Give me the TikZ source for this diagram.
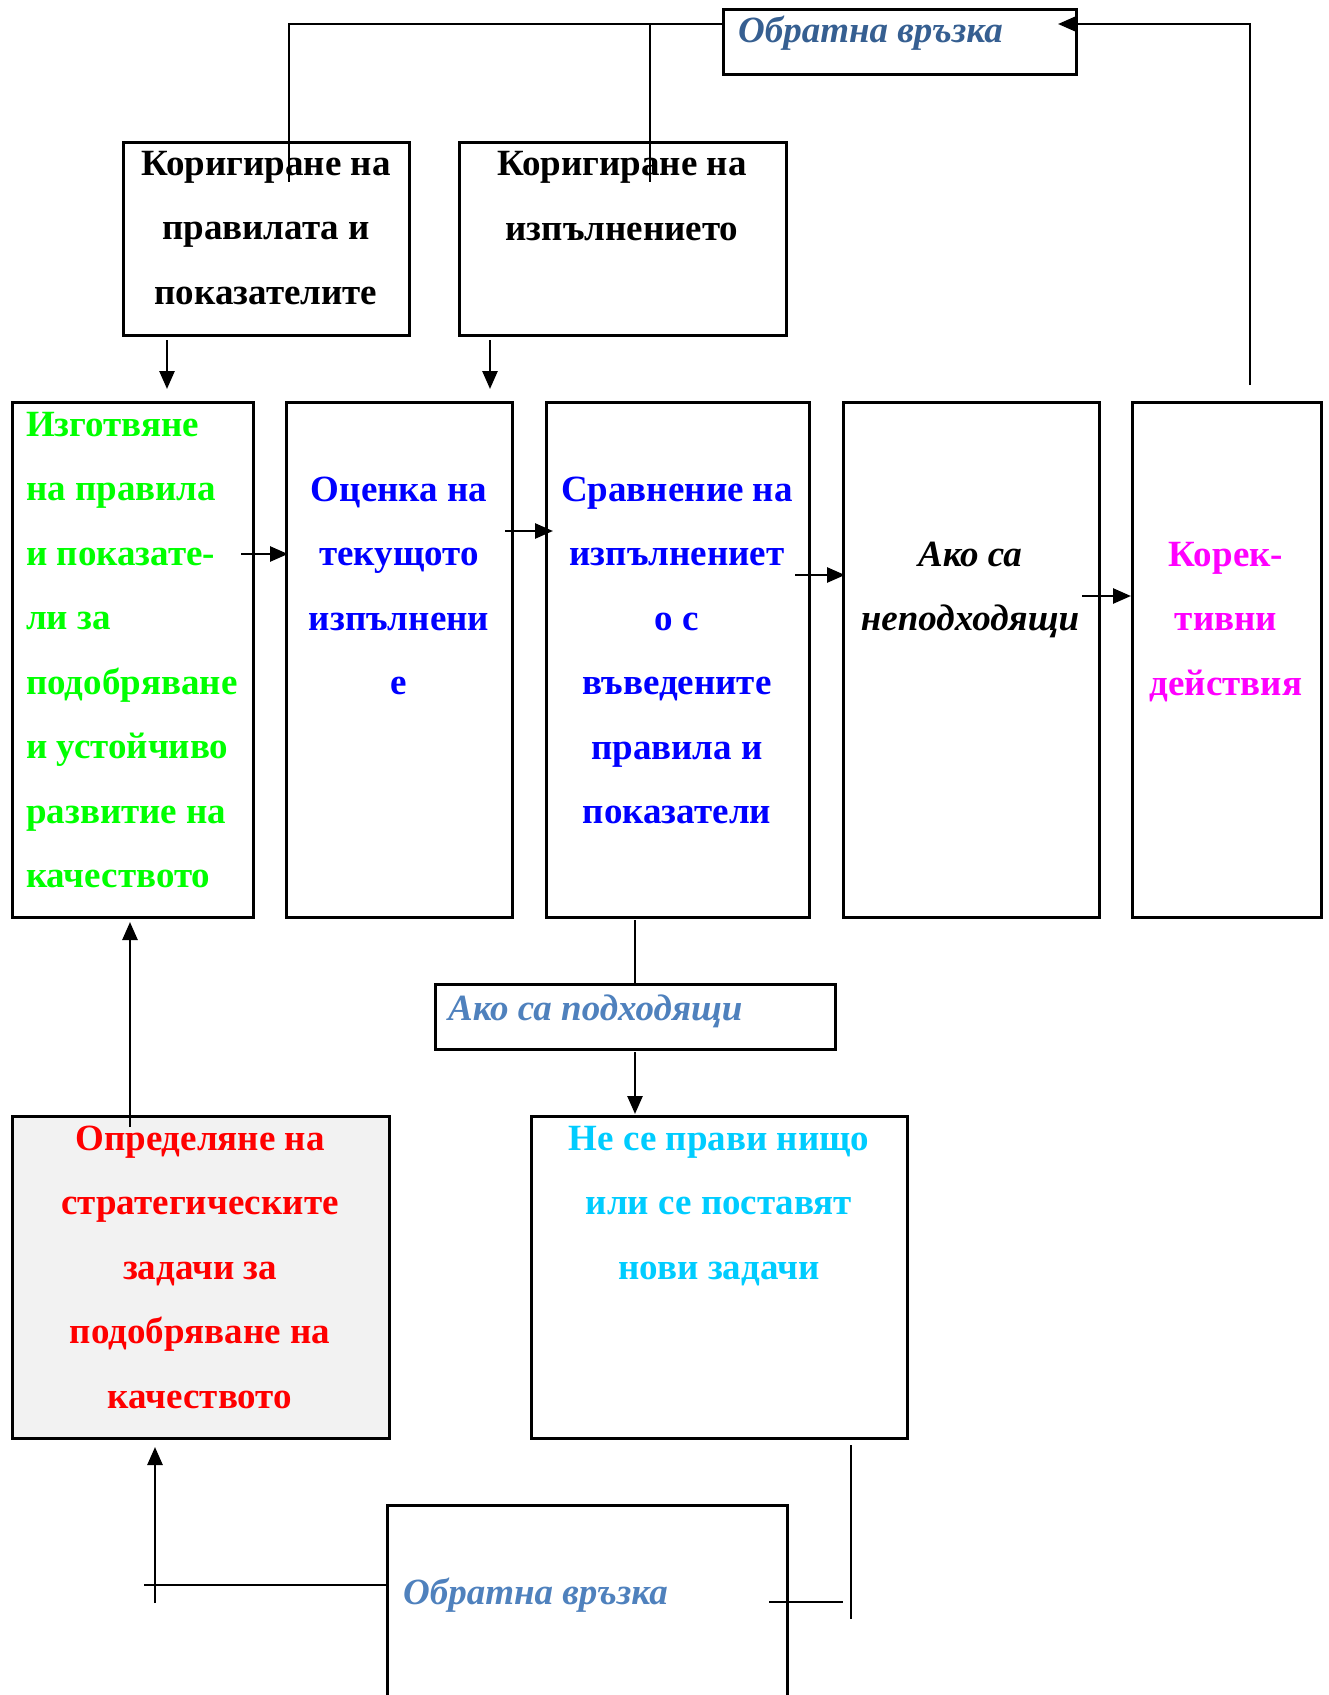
\documentclass[tikz,border=0pt]{standalone}
\usepackage{fontspec}
\setmainfont{Liberation Serif}
\usetikzlibrary{arrows.meta}
\definecolor{fbdark}{HTML}{365F91}
\definecolor{fblight}{HTML}{4F81BD}
\definecolor{cgreen}{HTML}{00FF00}
\definecolor{cblue}{HTML}{0000FF}
\definecolor{cmag}{HTML}{FF00FF}
\definecolor{cred}{HTML}{FF0000}
\definecolor{ccyan}{HTML}{00CCFF}
\definecolor{cgray}{HTML}{F2F2F2}
\begin{document}
\begin{tikzpicture}[x=1pt,y=-1pt,
  box/.style={draw, line width=2.6pt, anchor=north west, inner sep=0pt},
  conn/.style={line width=2.2pt},
  arr/.style={line width=2.6pt, -{Triangle[length=18pt,width=15pt]}},
  lbl/.style={inner sep=0pt, font=\fontsize{37}{64.5}\selectfont\bfseries, align=center, anchor=base},
  lbli/.style={lbl, font=\fontsize{37}{64.5}\selectfont\bfseries\itshape},
]
\useasboundingbox (0,0) rectangle (1329,1695);

% boxes
\node[box, minimum width=353pt, minimum height=65pt] (fbT) at (722,8) {};
\node[box, minimum width=286pt, minimum height=193pt] (corA) at (122,141) {};
\node[box, minimum width=327pt, minimum height=193pt] (corB) at (458,141) {};
\node[box, minimum width=241pt, minimum height=515pt] (prep) at (11,401) {};
\node[box, minimum width=226pt, minimum height=515pt] (eval) at (285,401) {};
\node[box, minimum width=263pt, minimum height=515pt] (comp) at (545,401) {};
\node[box, minimum width=256pt, minimum height=515pt] (bad) at (842,401) {};
\node[box, minimum width=189pt, minimum height=515pt] (corr) at (1131,401) {};
\node[box, minimum width=400pt, minimum height=65pt] (good) at (434,983) {};
\node[box, minimum width=377pt, minimum height=322pt, fill=cgray] (strat) at (11,1115) {};
\node[box, minimum width=376pt, minimum height=322pt] (none) at (530,1115) {};
\node[box, minimum width=400pt, minimum height=230pt] (fbB) at (386,1504) {};

% texts (each placed by the baseline of its last line)
\node[lbli, anchor=base west, text=fbdark] (fbTt) at (738,42) {Обратна връзка};
\node[lbl] (corAt) at (266,304) {Коригиране на\\правилата и\\показателите};
\node[lbl] (corBt) at (622,240) {Коригиране на\\изпълнението};
\node[lbl, align=left, anchor=base west, text=cgreen] (prept) at (26,887.5)
  {Изготвяне\\на правила\\и показате-\\ли за\\подобряване\\и устойчиво\\развитие на\\качеството};
\node[lbl, text=cblue] (evalt) at (399,694.5) {Оценка на\\текущото\\изпълнени\\е};
\node[lbl, text=cblue] (compt) at (677,823.5) {Сравнение на\\изпълнениет\\о с\\въведените\\правила и\\показатели};
\node[lbli] (badt) at (970,630.5) {Ако са\\неподходящи};
\node[lbl, text=cmag] (corrt) at (1226,695) {Корек-\\тивни\\действия};
\node[lbli, anchor=base west, text=fblight] (goodt) at (448,1020) {Ако са подходящи};
\node[lbl, text=cred] (stratt) at (200,1408) {Определяне на\\стратегическите\\задачи за\\подобряване на\\качеството};
\node[lbl, text=ccyan] (nonet) at (719,1279) {Не се прави нищо\\или се поставят\\нови задачи};
\node[lbli, anchor=base west, text=fblight] (fbBt) at (403,1604) {Обратна връзка};

% junction and end points of the connectors
\coordinate (fbL) at (fbT.west |- 0,24);
\coordinate (jA) at (289,24);
\coordinate (jB) at (650,24);
\coordinate (endA) at (289,182);
\coordinate (endB) at (650,182);
\coordinate (corrUp) at (1250,385);
\coordinate (corrTurn) at (1250,24);
\coordinate (fbTip) at (1058,24);
\coordinate (aS) at (167,340);
\coordinate (aE) at (167,389);
\coordinate (bS) at (490,340);
\coordinate (bE) at (490,389);
\coordinate (p1) at (241,554);
\coordinate (p2) at (288,554);
\coordinate (e1) at (505,531);
\coordinate (e2) at (553,531);
\coordinate (c1) at (795,575);
\coordinate (c2) at (845,575);
\coordinate (n1) at (1082,596);
\coordinate (n2) at (1131,596);
\coordinate (compDown) at (635,920);
\coordinate (goodDown) at (635,1052);
\coordinate (noneTop) at (635,1114);
\coordinate (stratUp) at (130,1127);
\coordinate (prepBot) at (130,922);
\coordinate (lbStart) at (144,1585);
\coordinate (lbLow) at (155,1603);
\coordinate (lbTip) at (155,1447);
\coordinate (rbA) at (769,1602);
\coordinate (rbB) at (843,1602);
\coordinate (rvTop) at (851,1445);
\coordinate (rvBot) at (851,1619);

% connectors
\draw[conn] (fbL) -- (jA) -- (endA);
\draw[conn] (jB) -- (endB);
\draw[arr] (corrUp) -- (corrTurn) -- (fbTip);
\draw[arr] (aS) -- (aE);
\draw[arr] (bS) -- (bE);
\draw[arr] (p1) -- (p2);
\draw[arr] (e1) -- (e2);
\draw[arr] (c1) -- (c2);
\draw[arr] (n1) -- (n2);
\draw[conn] (compDown) -- (good.north -| compDown);
\draw[arr] (goodDown) -- (noneTop);
\draw[arr] (stratUp) -- (prepBot);
\draw[conn] (lbStart) -- (fbB.west |- lbStart);
\draw[arr] (lbLow) -- (lbTip);
\draw[conn] (rbA) -- (rbB);
\draw[conn] (rvTop) -- (rvBot);
\end{tikzpicture}
\end{document}
